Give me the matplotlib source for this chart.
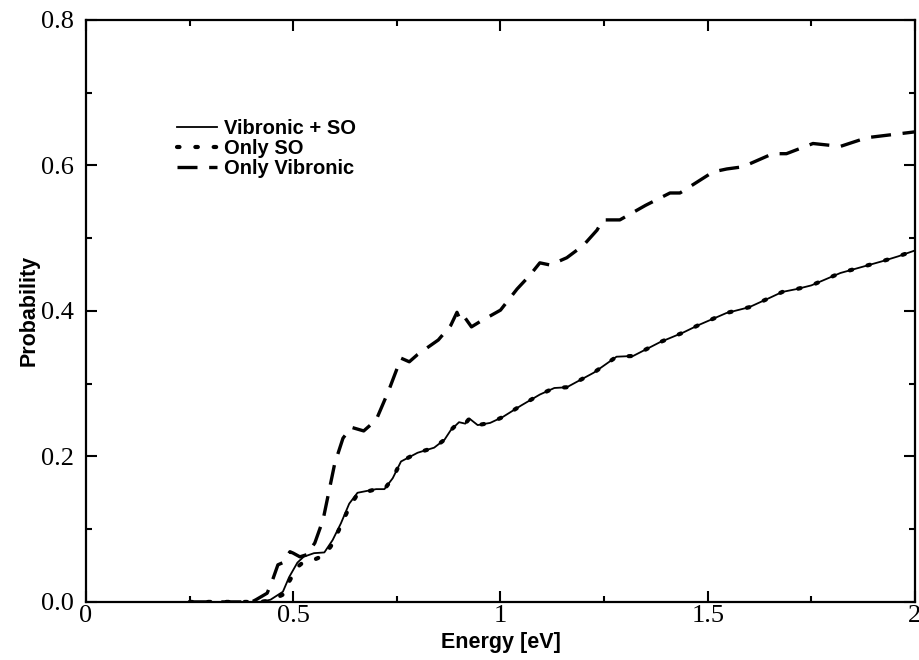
import matplotlib
matplotlib.use('Agg')
import matplotlib.pyplot as plt
from matplotlib.ticker import MultipleLocator, FuncFormatter

# Vibronic + SO (solid) and Only SO (dotted) share the x grid
x_so = [0.25, 0.42, 0.445, 0.475, 0.49, 0.51, 0.525, 0.55, 0.575, 0.595, 0.615,
        0.635, 0.655, 0.7, 0.72, 0.74, 0.76, 0.8, 0.84, 0.865, 0.88, 0.9, 0.915,
        0.925, 0.945, 0.975, 1.005, 1.05, 1.095, 1.13, 1.16, 1.225, 1.28, 1.32,
        1.385, 1.44, 1.48, 1.545, 1.6, 1.65, 1.68, 1.715, 1.75, 1.82, 1.87, 1.92,
        1.96, 2.0]
y_vib_so = [0, 0, 0.003, 0.014, 0.034, 0.054, 0.062, 0.067, 0.068, 0.085, 0.108,
            0.135, 0.15, 0.155, 0.155, 0.17, 0.193, 0.205, 0.212, 0.223, 0.236,
            0.247, 0.245, 0.252, 0.243, 0.246, 0.254, 0.27, 0.285, 0.294, 0.295,
            0.315, 0.337, 0.338, 0.357, 0.37, 0.381, 0.397, 0.405, 0.418, 0.426,
            0.43, 0.435, 0.452, 0.46, 0.468, 0.475, 0.483]
y_only_so = [0, 0, 0.002, 0.01, 0.028, 0.048, 0.055, 0.058, 0.064, 0.08, 0.105,
             0.13, 0.148, 0.155, 0.155, 0.17, 0.193, 0.205, 0.212, 0.223, 0.236,
             0.247, 0.245, 0.252, 0.243, 0.246, 0.254, 0.27, 0.285, 0.294, 0.295,
             0.315, 0.337, 0.338, 0.357, 0.37, 0.381, 0.397, 0.405, 0.418, 0.426,
             0.43, 0.435, 0.452, 0.46, 0.468, 0.475, 0.483]

# Only Vibronic (dashed)
x_vib = [0.25, 0.40, 0.41, 0.437, 0.45, 0.463, 0.475, 0.492, 0.5, 0.516, 0.533,
         0.552, 0.572, 0.6, 0.62, 0.64, 0.67, 0.7, 0.73, 0.76, 0.78, 0.8, 0.85,
         0.88, 0.895, 0.905, 0.915, 0.93, 0.95, 1.0, 1.04, 1.071, 1.095, 1.12,
         1.16, 1.2, 1.233, 1.247, 1.288, 1.35, 1.409, 1.433, 1.513, 1.546, 1.585,
         1.657, 1.69, 1.754, 1.82, 1.884, 2.0]
y_vib = [0, 0, 0.003, 0.012, 0.03, 0.051, 0.054, 0.069, 0.067, 0.062, 0.065,
         0.081, 0.113, 0.19, 0.225, 0.24, 0.235, 0.25, 0.29, 0.335, 0.33, 0.34,
         0.36, 0.38, 0.398, 0.385, 0.39, 0.378, 0.385, 0.401, 0.43, 0.449, 0.466,
         0.463, 0.473, 0.49, 0.511, 0.525, 0.525, 0.545, 0.562, 0.562, 0.591,
         0.595, 0.598, 0.616, 0.616, 0.63, 0.626, 0.638, 0.646]

serif = 'Liberation Serif'
sans = 'Liberation Sans'

fig = plt.figure(figsize=(9.2, 6.6), dpi=100)
ax = fig.add_axes([0.0935, 0.088, 0.901, 0.882])

ax.plot(x_so, y_vib_so, color='black', lw=1.3, label='Vibronic + SO')
ax.plot(x_so, y_only_so, color='black', lw=3.0, linestyle=(0, (0.6, 3.8)),
        dash_capstyle='round', label='Only SO')
ax.plot(x_vib, y_vib, color='black', lw=2.4, linestyle=(0, (6, 3.5)),
        label='Only Vibronic')

ax.set_xlim(0, 2)
ax.set_ylim(0, 0.8)
ax.xaxis.set_major_locator(MultipleLocator(0.5))
ax.xaxis.set_minor_locator(MultipleLocator(0.25))
ax.yaxis.set_major_locator(MultipleLocator(0.2))
ax.yaxis.set_minor_locator(MultipleLocator(0.1))
ax.xaxis.set_major_formatter(FuncFormatter(lambda v, _: f"{v:g}"))
ax.yaxis.set_major_formatter(FuncFormatter(lambda v, _: f"{v:.1f}"))
ax.tick_params(which='both', direction='in', top=True, right=True, width=1.5)
ax.tick_params(which='major', length=8, labelsize=19)
ax.tick_params(axis='x', which='major', pad=2)
ax.tick_params(axis='y', which='major', pad=9)
ax.tick_params(which='minor', length=4)
for s in ax.spines.values():
    s.set_linewidth(1.6)
for lab in ax.get_xticklabels() + ax.get_yticklabels():
    lab.set_family(serif)

ax.set_xlabel('Energy [eV]', fontsize=15.5, fontweight='bold', family=sans, labelpad=4)
ax.set_ylabel('Probability', fontsize=15.5, fontweight='bold', family=sans, labelpad=1)

ax.legend(loc='upper left', bbox_to_anchor=(0.088, 0.86), frameon=False,
          prop={'family': sans, 'weight': 'bold', 'size': 14.5},
          handlelength=2.0, handletextpad=0.35, labelspacing=0.05)

fig.savefig('out.png', dpi=100)
